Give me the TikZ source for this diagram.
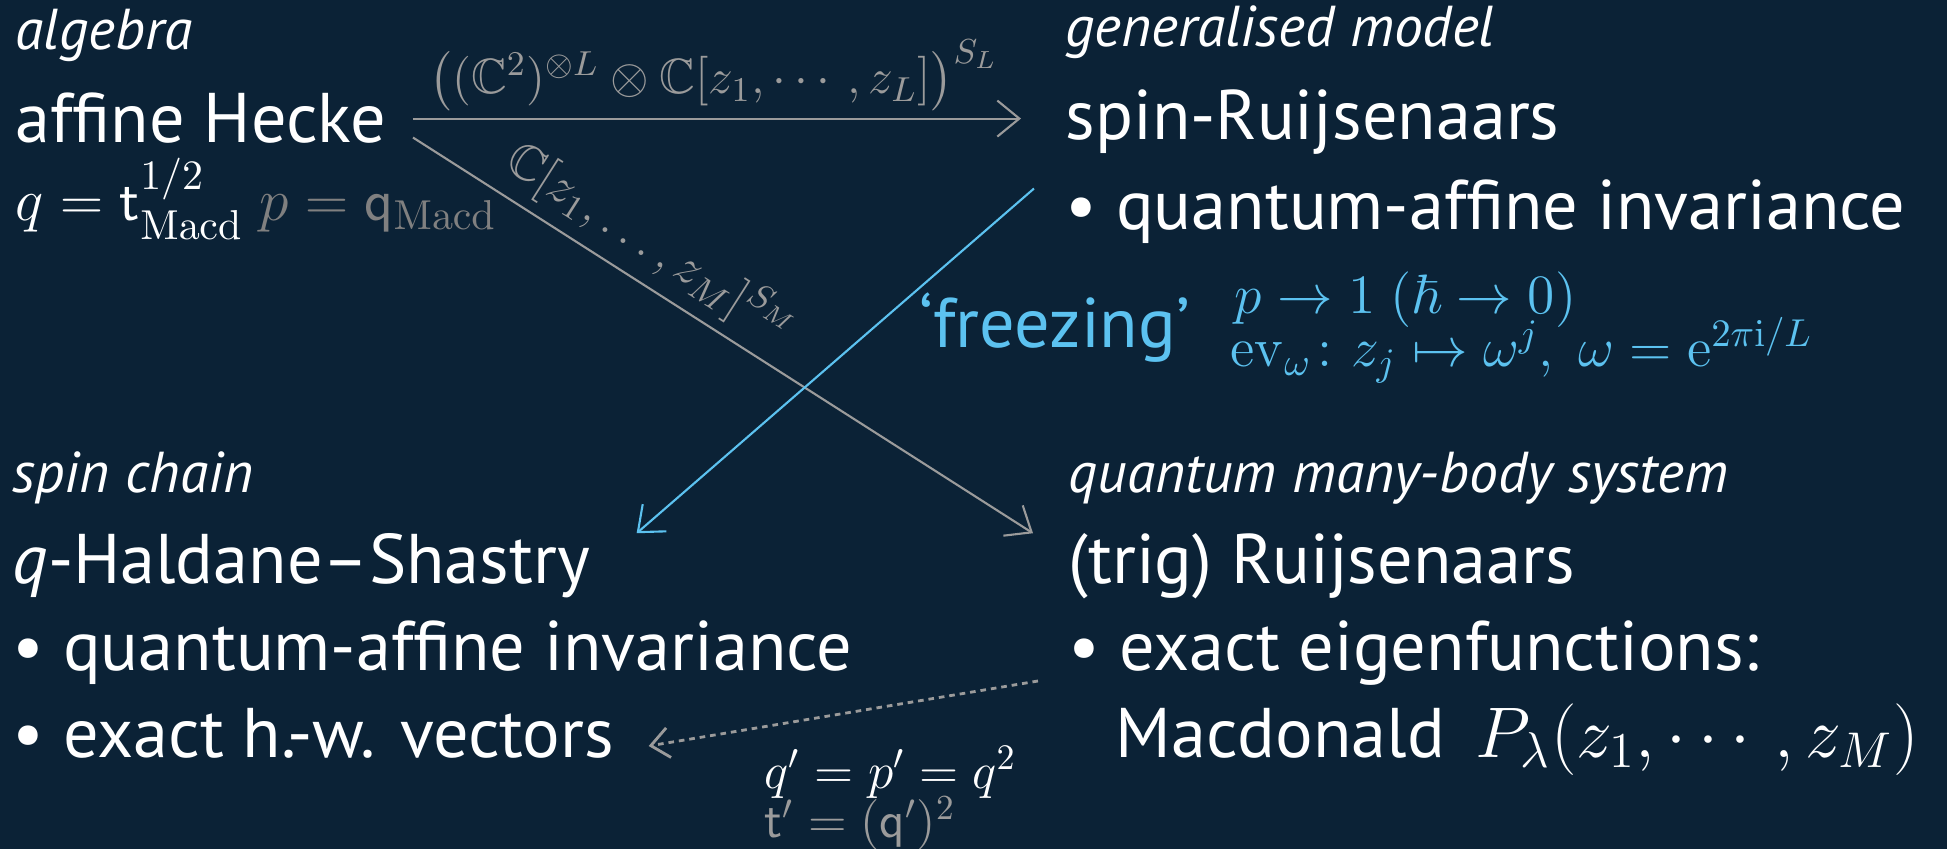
\RequirePackage{fix-cm}
\documentclass[tikz,border=0pt]{standalone}
\usepackage{amssymb,amsmath}
\usepackage[no-math]{fontspec}
\setmainfont{PT Sans}
\setsansfont{PT Sans}
\usepackage{tikz}
\usetikzlibrary{arrows.meta,calc}
\definecolor{bgnavy}{RGB}{11,34,54}
\definecolor{iceblue}{RGB}{92,194,240}
\definecolor{lgray}{RGB}{155,155,155}
\definecolor{dgray}{RGB}{128,128,128}
\newcommand{\mathsz}{\fontsize{17}{20}\selectfont}

\begin{document}
\begin{tikzpicture}
    [x=1cm,y=1cm,
     every node/.style={inner sep=0pt,text=white,anchor=base west},
     big/.style={font=\fontsize{20}{24}\selectfont},
     cat/.style={font=\fontsize{16.4}{19}\selectfont\itshape},
     lbl/.style={font=\fontsize{14.1}{17}\selectfont,text=lgray},
     icelbl/.style={font=\fontsize{15.8}{18}\selectfont,text=iceblue},
     grayarrow/.style={draw=lgray,line width=0.6pt,-{Straight Barb[length=2.2mm,width=3.6mm]}},
     icearrow/.style={draw=iceblue,line width=0.6pt,-{Straight Barb[length=2.2mm,width=3.6mm]}},
     dotarrow/.style={draw=lgray,line width=0.8pt,dash pattern=on 1.6pt off 1.4pt,-{Straight Barb[length=1.8mm,width=3mm]}}]
    \useasboundingbox (0,0) rectangle (19.47,-8.49);
    \clip (0,0) rectangle (19.47,-8.49);
    \fill[bgnavy] (0,0) rectangle (19.47,-8.49);
    % algebra
    \node[cat] (alg) at (0.15,-0.50) {algebra};
    \node[big] (hecke) at (0.15,-1.43) {affine Hecke};
    \node[big] (macd) at (0.15,-2.21) {\mathsz$q=\mathsf{t}_{\mathrm{Macd}}^{1/2}$ \textcolor{dgray}{$p=\mathsf{q}_{\mathrm{Macd}}$}};
    % generalised model
    \node[cat] (gen) at (10.65,-0.47) {generalised model};
    \node[big] (spinR) at (10.65,-1.40) {spin-Ruijsenaars};
    \node[big] (qaTop) at (10.65,-2.30) {\textbullet\ quantum-affine invariance};
    % spin chain
    \node[cat] (chain) at (0.12,-4.93) {spin chain};
    \node[big] (hs) at (0.12,-5.84) {\textit{q}-Haldane--Shastry};
    \node[big] (qaBot) at (0.12,-6.71) {\textbullet\ quantum-affine invariance};
    \node[big] (hw) at (0.12,-7.57) {\textbullet\ exact h.-w. vectors};
    % many-body system
    \node[cat] (mb) at (10.68,-4.93) {quantum many-body system};
    \node[big] (trig) at (10.68,-5.84) {(trig) Ruijsenaars};
    \node[big] (eig) at (10.68,-6.71) {\textbullet\ exact eigenfunctions:};
    \node[big] (mcd) at (11.15,-7.57) {Macdonald\, {\fontsize{20.4}{24}\selectfont$P_\lambda(z_1,\cdots,z_M)$}};
    % freezing
    \node[big,text=iceblue] (freeze) at (9.19,-3.48) {`freezing'};
    \node[icelbl] (lim) at (12.34,-3.14) {$p\to1\ (\hbar\to0)$};
    \node[icelbl] (ev) at (12.30,-3.67) {$\mathrm{ev}_\omega\colon z_j\mapsto\omega^j,\ \omega=\mathrm{e}^{2\pi\mathrm{i}/L}$};
    \node[font=\fontsize{14.6}{18}\selectfont] (qp) at (7.64,-7.88) {$q'=p'=q^2$};
    \node[font=\fontsize{14.4}{18}\selectfont,text=lgray] (tp) at (7.64,-8.38) {$\mathsf{t}'=(\mathsf{q}')^2$};
    % arrows
    \draw[grayarrow,shorten <=2.6mm,shorten >=4.4mm] (hecke.east) -- (hecke.east -| spinR.west)
        node[lbl,midway,anchor=base,xshift=-1.2mm,yshift=2.5mm] {$\bigl((\mathbb{C}^2)^{\otimes L}\otimes\mathbb{C}[z_1,\cdots,z_L]\bigr)^{S_L}$};
    \draw[grayarrow] ([shift={(2.6mm,0.7mm)}]hecke.south east) -- ([xshift=-3.5mm]trig.north west)
        node[lbl,pos=0.35,sloped,anchor=south,yshift=1mm] {$\mathbb{C}[z_1,\ldots,z_M]^{S_M}$};
    \draw[icearrow] ([shift={(-3.1mm,-0.9mm)}]qaTop.north west) -- ([xshift=4.6mm]hs.north east);
    \draw[dotarrow] ([shift={(-3mm,-1mm)}]eig.base west) -- ([shift={(3.4mm,1.1mm)}]hw.base east);
\end{tikzpicture}
\end{document}
